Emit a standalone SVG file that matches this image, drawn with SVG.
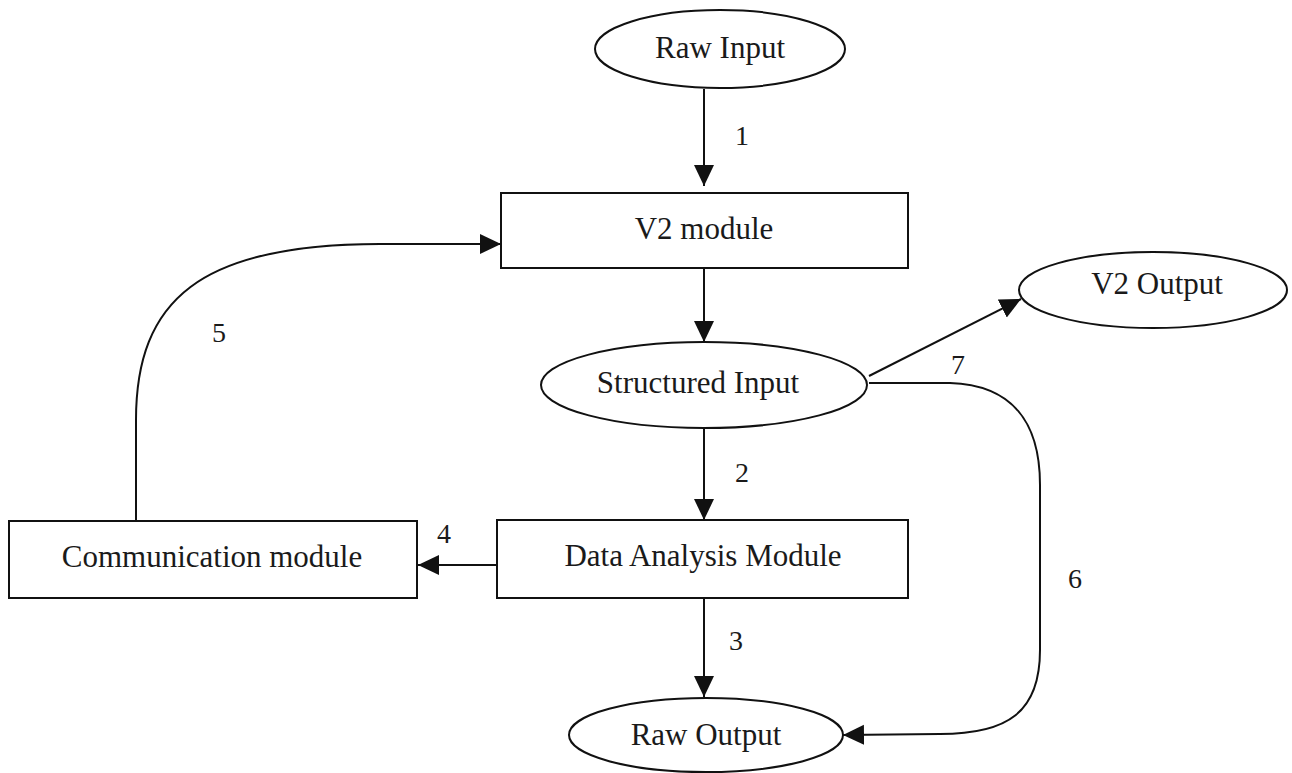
<svg xmlns="http://www.w3.org/2000/svg" width="1292" height="773" viewBox="0 0 1292 773">
  <style>
    .shape { fill: #ffffff; stroke: #111111; stroke-width: 2; }
    .label { font-family: "Liberation Serif", "Times New Roman", serif; font-size: 31px; fill: #1a1a1a; text-anchor: middle; }
    .num { font-family: "Liberation Serif", "Times New Roman", serif; font-size: 28px; fill: #1a1a1a; text-anchor: middle; }
    .edge { fill: none; stroke: #111111; stroke-width: 2; marker-end: url(#head); }
  </style>
  <defs>
    <marker id="head" markerUnits="userSpaceOnUse" markerWidth="24" markerHeight="22" refX="21" refY="10" orient="auto">
      <path d="M0,0 L21,10 L0,20 Z" fill="#111111"/>
    </marker>
  </defs>
  <rect width="1292" height="773" fill="#ffffff"/>

  <g id="connectors">
    <!-- 1: raw input to V2 module -->
    <path class="edge" d="M704,89 L704,186"/>
    <!-- V2 module to structured input -->
    <path class="edge" d="M704,268 L704,342"/>
    <!-- 2: structured input to data analysis -->
    <path class="edge" d="M704,428 L704,520"/>
    <!-- 3: data analysis to raw output -->
    <path class="edge" d="M704,598 L704,697"/>
    <!-- 4: data analysis to communication -->
    <path class="edge" d="M496,565 L418,565"/>
    <!-- 5: communication back to V2 module -->
    <path class="edge" d="M136,521 L136,420 C136,300 200,244 380,244 L501,244"/>
    <!-- 7: structured input to V2 output -->
    <path class="edge" d="M869,376 L1021,299"/>
    <!-- 6: structured input around to raw output -->
    <path class="edge" d="M869,383 L950,383 C1012,385 1040,422 1040,485 L1040,650 C1040,712 1008,734 940,734 L843,735"/>
    <text class="num" x="742" y="145">1</text>
    <text class="num" x="742" y="482">2</text>
    <text class="num" x="736" y="650">3</text>
    <text class="num" x="444" y="543">4</text>
    <text class="num" x="219" y="342">5</text>
    <text class="num" x="1075" y="588">6</text>
    <text class="num" x="958" y="374">7</text>
  </g>

  <g id="raw-input">
    <ellipse class="shape" cx="720" cy="49" rx="125" ry="39"/>
    <text class="label" x="720" y="58">Raw Input</text>
  </g>

  <g id="v2-module">
    <rect class="shape" x="501" y="193" width="407" height="75"/>
    <text class="label" x="704" y="239">V2 module</text>
  </g>

  <g id="v2-output">
    <ellipse class="shape" cx="1153" cy="290" rx="134" ry="38"/>
    <text class="label" x="1157" y="294">V2 Output</text>
  </g>

  <g id="structured-input">
    <ellipse class="shape" cx="704" cy="385" rx="163" ry="43"/>
    <text class="label" x="698" y="393">Structured Input</text>
  </g>

  <g id="communication-module">
    <rect class="shape" x="9" y="521" width="408" height="77"/>
    <text class="label" x="212" y="567">Communication module</text>
  </g>

  <g id="data-analysis-module">
    <rect class="shape" x="497" y="520" width="411" height="78"/>
    <text class="label" x="703" y="566">Data Analysis Module</text>
  </g>

  <g id="raw-output">
    <ellipse class="shape" cx="706" cy="735" rx="137" ry="37"/>
    <text class="label" x="706" y="745">Raw Output</text>
  </g>
</svg>
